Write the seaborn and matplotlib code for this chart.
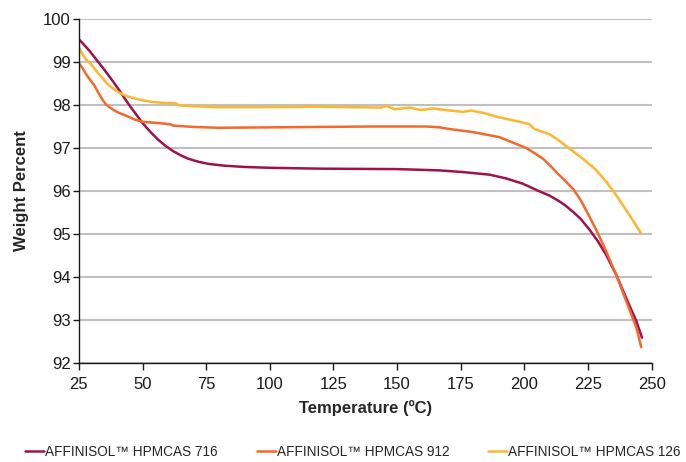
import matplotlib
matplotlib.use("Agg")
import matplotlib.pyplot as plt
import seaborn as sns
import pandas as pd

# Thermogravimetric curves for three HPMCAS grades
temp_716 = [25, 27, 29, 31, 33, 35, 37, 39, 41, 43, 45, 47, 50, 53, 56, 59, 62, 65,
            68, 72, 76, 82, 90, 100, 120, 150, 166.7, 176, 186.4, 193, 199.4, 206,
            210, 213.2, 216, 219, 222, 225.6, 229, 232.2, 236.1, 240, 244, 246.2]
wt_716 = [99.53, 99.4, 99.27, 99.12, 98.97, 98.82, 98.66, 98.5, 98.33, 98.15, 97.98,
          97.82, 97.58, 97.38, 97.2, 97.05, 96.93, 96.83, 96.75, 96.68, 96.63, 96.59,
          96.56, 96.54, 96.52, 96.51, 96.48, 96.44, 96.38, 96.29, 96.17, 95.99, 95.89,
          95.78, 95.67, 95.52, 95.36, 95.1, 94.82, 94.51, 94.05, 93.51, 92.97, 92.59]

temp_912 = [25, 26.5, 28, 29.5, 31, 32.5, 34, 35.5, 37, 39, 41, 44, 47, 50, 54, 58,
            61, 62, 70, 80, 100, 120, 140, 161.5, 166.7, 170.7, 179.8, 190.3, 200.7,
            204, 207.3, 210, 213.2, 216, 219.1, 222, 225.6, 229, 232.2, 236.1, 240,
            244, 245.9]
wt_912 = [98.97, 98.85, 98.7, 98.58, 98.46, 98.3, 98.15, 98.02, 97.95, 97.87, 97.81,
          97.74, 97.66, 97.61, 97.59, 97.57, 97.55, 97.52, 97.49, 97.47, 97.48, 97.49,
          97.5, 97.5, 97.48, 97.44, 97.37, 97.25, 97.0, 96.88, 96.75, 96.6, 96.4,
          96.24, 96.05, 95.8, 95.4, 95.0, 94.59, 94.05, 93.44, 92.82, 92.37]

temp_126 = [25, 26.5, 28, 30, 32, 34, 36, 38.5, 41, 44, 47, 50, 54, 58, 63, 64.5, 70,
            80, 96, 120, 143.8, 145.8, 149, 155, 159.5, 164, 169.4, 175.9, 179.2,
            183.6, 190.3, 198.2, 202, 204, 209.9, 213.2, 217.8, 223, 228, 232.2,
            236.1, 241.3, 245.9]
wt_126 = [99.33, 99.17, 99.05, 98.93, 98.78, 98.64, 98.5, 98.38, 98.28, 98.2, 98.15,
          98.11, 98.07, 98.05, 98.04, 97.99, 97.97, 97.95, 97.95, 97.96, 97.94, 97.98,
          97.9, 97.94, 97.88, 97.92, 97.88, 97.84, 97.87, 97.82, 97.71, 97.61, 97.55,
          97.44, 97.32, 97.19, 96.98, 96.75, 96.5, 96.21, 95.9, 95.44, 95.01]

series_names = ["AFFINISOL\u2122 HPMCAS 716", "AFFINISOL\u2122 HPMCAS 912",
                "AFFINISOL\u2122 HPMCAS 126"]
series_colors = ["#A0104F", "#F4692A", "#FDB62E"]

x_ticks = [25, 50, 75, 100, 125, 150, 175, 200, 225, 250]
y_ticks = [92, 93, 94, 95, 96, 97, 98, 99, 100]

frames = []
for name, t, w in zip(series_names, [temp_716, temp_912, temp_126],
                      [wt_716, wt_912, wt_126]):
    frames.append(pd.DataFrame({"Temperature": t, "Weight": w, "Grade": name}))
df = pd.concat(frames, ignore_index=True)

sns.set_theme(style="white")
plt.rcParams["font.family"] = ["Liberation Sans", "DejaVu Sans"]

fig = plt.figure(figsize=(6.86, 4.62), dpi=100)
ax = fig.add_axes([0.115, 0.214, 0.835, 0.745])

sns.lineplot(data=df, x="Temperature", y="Weight", hue="Grade",
             palette=dict(zip(series_names, series_colors)), sort=False,
             estimator=None, linewidth=1.8, ax=ax, legend=True)
for line in ax.lines:
    line.set_solid_joinstyle("round")

ax.set_xlim(25, 250)
ax.set_ylim(92, 100)
ax.set_xticks(x_ticks)
ax.set_yticks(y_ticks)
ax.tick_params(axis="both", labelsize=12, colors="#1a1a1a", direction="out",
               length=4, width=1)
ax.tick_params(axis="x", bottom=True, pad=5, length=5)
ax.tick_params(axis="y", left=True, pad=2)
ax.yaxis.grid(True, color="#C0C0C0", linewidth=1.5)
ax.set_axisbelow(True)
for side in ["top", "right"]:
    ax.spines[side].set_visible(False)
for side in ["left", "bottom"]:
    ax.spines[side].set_color("#1a1a1a")
    ax.spines[side].set_linewidth(1)

ax.set_xlabel("Temperature (\u00baC)", fontsize=12, fontweight="bold", labelpad=6)
ax.set_ylabel("Weight Percent", fontsize=12, fontweight="bold", labelpad=10)

handles, labels = ax.get_legend_handles_labels()
ax.legend(handles, labels, loc="center left", bbox_to_anchor=(0.019, 0.0225),
          bbox_transform=fig.transFigure, ncol=3, frameon=False, fontsize=9.8,
          handlelength=1.4, handletextpad=0.08, columnspacing=2.83)

fig.savefig("out.png", dpi=100)
